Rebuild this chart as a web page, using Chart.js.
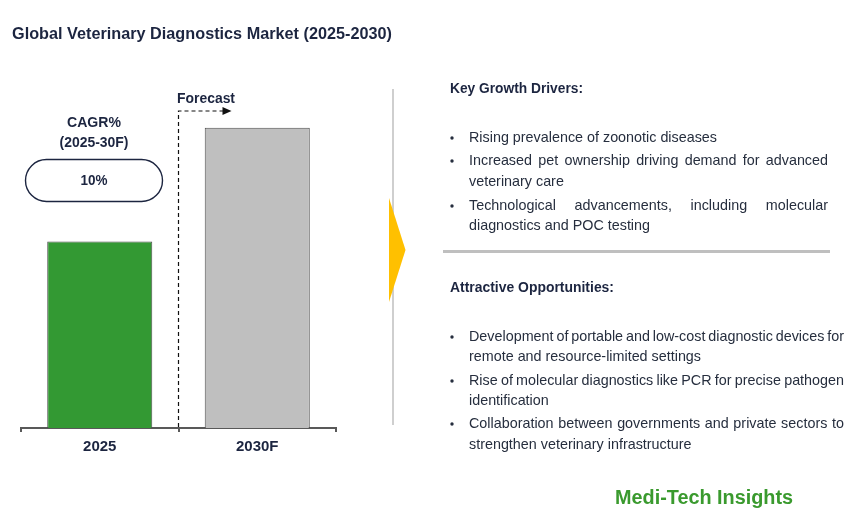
<!DOCTYPE html>
<html>
<head>
<meta charset="utf-8">
<script src="https://cdn.jsdelivr.net/npm/chart.js@4"></script>
<style>
  html, body { margin: 0; padding: 0; background: #fff; }
  #wrap { width: 862px; height: 530px; position: relative; }
</style>
</head>
<body>
<div id="wrap"><canvas id="chart" width="862" height="530"></canvas></div>
<script>
// chart data (relative market size, 2025 = 100, ~10% CAGR)
const years = ["2025", "2030F"];
const marketSize = [100, 161];
const barColors = ["#339933", "#bfbfbf"];
const cagrLabel = "10%";

const driverTitle = "Key Growth Drivers:";
const drivers = [
  ["Rising prevalence of zoonotic diseases"],
  ["Increased pet ownership driving demand for advanced", "veterinary care"],
  ["Technological advancements, including molecular", "diagnostics and POC testing"],
];
const oppTitle = "Attractive Opportunities:";
const opportunities = [
  ["Development of portable and low-cost diagnostic devices for", "remote and resource-limited settings"],
  ["Rise of molecular diagnostics like PCR for precise pathogen", "identification"],
  ["Collaboration between governments and private sectors to", "strengthen veterinary infrastructure"],
];

const NAVY = "#1c2540";
const TEXT = "#262e3e";
const FONT = '"Liberation Sans", Arial, Helvetica, sans-serif';

// draw text squeezed/stretched to a target width
function drawFit(ctx, text, x, y, width, font, align) {
  ctx.save();
  ctx.font = font;
  const w = ctx.measureText(text).width;
  const sx = width / w;
  let left = x;
  if (align === "center") left = x - width / 2;
  ctx.translate(left, y);
  ctx.scale(sx, 1);
  ctx.textAlign = "left";
  ctx.fillText(text, 0, 0);
  ctx.restore();
}

// body text with a fixed horizontal scale, optionally justified
function drawLine(ctx, text, x, y, sx, justifyTo) {
  ctx.save();
  ctx.translate(x, y);
  ctx.scale(sx, 1);
  ctx.textAlign = "left";
  if (!justifyTo) {
    ctx.fillText(text, 0, 0);
  } else {
    const words = text.split(" ");
    const total = (justifyTo - x) / sx;
    let sum = 0;
    words.forEach((w) => (sum += ctx.measureText(w).width));
    const gap = (total - sum) / (words.length - 1);
    let cx = 0;
    words.forEach((w) => {
      ctx.fillText(w, cx, 0);
      cx += ctx.measureText(w).width + gap;
    });
  }
  ctx.restore();
}

function drawBullets(ctx, items, rows, right, sx) {
  items.forEach((lines, i) => {
    const ys = rows[i];
    ctx.beginPath();
    ctx.arc(452, ys[0], 1.7, 0, Math.PI * 2);
    ctx.fill();
    lines.forEach((ln, j) => {
      // every line but the last of a wrapped item is justified
      const justify = lines.length > 1 && j < lines.length - 1;
      drawLine(ctx, ln, 469, ys[j], sx, justify ? right : null);
    });
  });
}

const overlay = {
  id: "overlay",
  afterDraw(chart) {
    const ctx = chart.ctx;
    const xs = chart.scales.x;
    const x0 = xs.getPixelForValue(0);
    const x1 = xs.getPixelForValue(1);
    const mid = (x0 + x1) / 2;
    const bottom = chart.chartArea.bottom;

    ctx.save();
    ctx.textBaseline = "middle";

    // title
    ctx.fillStyle = NAVY;
    drawFit(ctx, "Global Veterinary Diagnostics Market (2025-2030)", 12, 34, 380, "bold 17px " + FONT, "left");

    // CAGR block
    drawFit(ctx, "CAGR%", 94, 123, 54, "bold 15px " + FONT, "center");
    drawFit(ctx, "(2025-30F)", 94, 143, 69, "bold 15px " + FONT, "center");
    ctx.beginPath();
    ctx.strokeStyle = NAVY;
    ctx.lineWidth = 1.4;
    ctx.roundRect(25.5, 159.5, 137, 42, 21);
    ctx.stroke();
    drawFit(ctx, cagrLabel, 94, 181, 27, "bold 15px " + FONT, "center");

    // forecast divider
    ctx.strokeStyle = "#111";
    ctx.lineWidth = 1.2;
    ctx.setLineDash([4, 3]);
    ctx.beginPath();
    ctx.moveTo(mid, bottom - 1);
    ctx.lineTo(mid, 111);
    ctx.lineTo(mid + 45, 111);
    ctx.stroke();
    ctx.setLineDash([]);
    ctx.fillStyle = "#111";
    ctx.beginPath();
    ctx.moveTo(mid + 44, 107);
    ctx.lineTo(mid + 53, 111);
    ctx.lineTo(mid + 44, 115);
    ctx.closePath();
    ctx.fill();
    ctx.fillStyle = NAVY;
    drawFit(ctx, "Forecast", 206, 99, 58, "bold 14px " + FONT, "center");

    // separator + chevron
    ctx.strokeStyle = "#bfbfbf";
    ctx.lineWidth = 1.5;
    ctx.beginPath();
    ctx.moveTo(393, 89);
    ctx.lineTo(393, 425);
    ctx.stroke();
    ctx.fillStyle = "#ffc000";
    ctx.beginPath();
    ctx.moveTo(389, 198);
    ctx.lineTo(405.5, 250);
    ctx.lineTo(389, 302);
    ctx.closePath();
    ctx.fill();

    // right side text
    ctx.fillStyle = NAVY;
    drawFit(ctx, driverTitle, 450, 89, 133, "bold 14px " + FONT, "left");
    drawFit(ctx, oppTitle, 450, 288, 164, "bold 14px " + FONT, "left");

    ctx.font = "15px " + FONT;
    const sx = 248 / ctx.measureText(drivers[0][0]).width;
    ctx.fillStyle = TEXT;
    drawBullets(ctx, drivers, [[138], [161, 182], [206, 226]], 828, sx);
    drawBullets(ctx, opportunities, [[337, 357], [381, 401], [424, 445]], 844, sx);

    ctx.strokeStyle = "#bfbfbf";
    ctx.lineWidth = 3;
    ctx.beginPath();
    ctx.moveTo(443, 251.5);
    ctx.lineTo(830, 251.5);
    ctx.stroke();

    // logo
    ctx.fillStyle = "#3a9a2e";
    drawFit(ctx, "Medi-Tech Insights", 615, 498, 178, "bold 20px " + FONT, "left");

    ctx.restore();
  },
};

new Chart(document.getElementById("chart"), {
  type: "bar",
  data: {
    labels: years,
    datasets: [
      {
        data: marketSize,
        backgroundColor: barColors,
        borderColor: "#4d4d4d",
        borderWidth: 1,
        barPercentage: 0.667,
        categoryPercentage: 1,
      },
    ],
  },
  options: {
    responsive: false,
    animation: false,
    layout: { padding: { left: 21, right: 526, top: 55, bottom: 0 } },
    scales: {
      y: { display: false, min: 0, max: 200 },
      x: {
        afterFit(scale) {
          scale.height = 102;
        },
        border: { display: true, color: "#595959", width: 2 },
        grid: {
          display: true,
          offset: true,
          drawOnChartArea: false,
          drawTicks: true,
          tickLength: 4,
          color: "#595959",
          lineWidth: 2,
        },
        ticks: {
          padding: 6,
          color: NAVY,
          font: { family: FONT, size: 15, weight: "bold" },
        },
      },
    },
    plugins: {
      legend: { display: false },
      tooltip: { enabled: false },
    },
  },
  plugins: [overlay],
});
</script>
</body>
</html>
